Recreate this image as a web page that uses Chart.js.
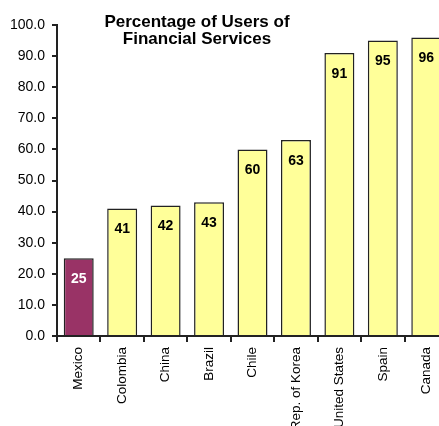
<!DOCTYPE html>
<html>
<head>
<meta charset="utf-8">
<script src="https://cdn.jsdelivr.net/npm/chart.js@4"></script>
<style>
  html, body { margin: 0; padding: 0; background: #fff; overflow: hidden; }
  #wrap { width: 462px; height: 426px; }
</style>
</head>
<body>
<div id="wrap"><canvas id="chart"></canvas></div>
<script>
// Percentage of users of financial services
const countries = ['Mexico', 'Colombia', 'China', 'Brazil', 'Chile', 'Rep. of Korea', 'United States', 'Spain', 'Canada'];
const users = [25, 41, 42, 43, 60, 63, 91, 95, 96];
const titleLines = ['Percentage of Users of', 'Financial Services'];

const FONT = '"Liberation Sans", Arial, sans-serif';
const barColors = countries.map(c => c === 'Mexico' ? '#993366' : '#FFFF99');

// value labels inside the top of each bar + the title
const labelPlugin = {
    id: 'labels',
    afterDatasetsDraw(chart) {
        const ctx = chart.ctx;
        const meta = chart.getDatasetMeta(0);
        ctx.save();
        ctx.font = 'bold 14px ' + FONT;
        ctx.textAlign = 'center';
        ctx.textBaseline = 'middle';
        meta.data.forEach((bar, i) => {
            ctx.fillStyle = countries[i] === 'Mexico' ? '#ffffff' : '#000000';
            ctx.fillText(String(users[i]), bar.x, bar.y + 21);
        });
        ctx.font = 'bold 17px ' + FONT;
        ctx.fillStyle = '#000';
        ctx.fillText(titleLines[0], 197, 22);
        ctx.fillText(titleLines[1], 197, 39);
        ctx.restore();
    }
};

new Chart(document.getElementById('chart'), {
    type: 'bar',
    data: {
        labels: countries,
        datasets: [{
            data: users,
            backgroundColor: barColors,
            borderColor: '#222',
            borderWidth: 1.5,
            barPercentage: 0.69,
            categoryPercentage: 1
        }]
    },
    options: {
        responsive: true,
        maintainAspectRatio: false,
        animation: false,
        layout: { padding: { top: 25, right: 14, left: 0, bottom: 0 } },
        plugins: { legend: { display: false }, tooltip: { enabled: false } },
        scales: {
            x: {
                afterFit: s => { s.height = 90; },
                grid: { drawOnChartArea: false, color: '#222', tickLength: 6, offset: true, lineWidth: 2 },
                border: { color: '#222', width: 2 },
                ticks: { color: '#000', font: { family: FONT, size: 13.5 }, minRotation: 90, maxRotation: 90, autoSkip: false, padding: 5 }
            },
            y: {
                min: 0, max: 100,
                afterFit: s => { s.width = 57; },
                grid: { drawOnChartArea: false, color: '#222', tickLength: 5, lineWidth: 2 },
                border: { color: '#222', width: 2 },
                ticks: { stepSize: 10, color: '#000', font: { family: FONT, size: 14 }, padding: 7, callback: v => v.toFixed(1) }
            }
        }
    },
    plugins: [labelPlugin]
});
</script>
</body>
</html>
